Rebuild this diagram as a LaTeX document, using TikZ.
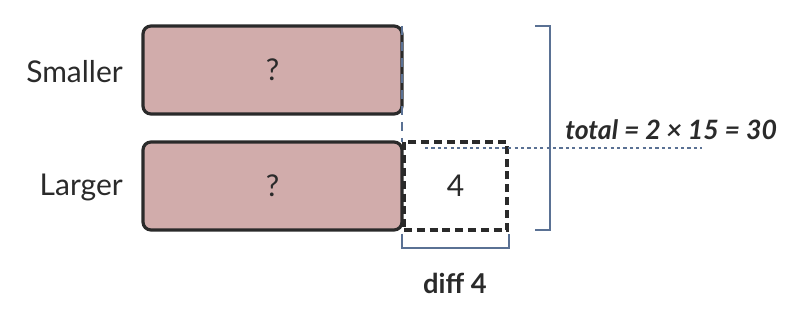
\documentclass[tikz,border=0pt]{standalone}
\usepackage{fontspec}
\setmainfont{Lato}
\definecolor{boxfill}{HTML}{D1ACAB}
\definecolor{boxline}{HTML}{2A2A2A}
\definecolor{steel}{HTML}{5A7194}
\begin{document}
\begin{tikzpicture}[x=0.75pt,y=-0.75pt,
  partbox/.style={draw=boxline,fill=boxfill,line width=2.4pt,rounded corners=6pt,
    minimum width=194.25pt,minimum height=66pt,inner sep=0pt,font=\fontsize{22.5}{26}\selectfont,text=boxline},
  diffbox/.style={draw=boxline,line width=2.4pt,dash pattern=on 6pt off 3.6pt,
    minimum width=77.25pt,minimum height=66pt,inner sep=0pt,font=\fontsize{22.5}{26}\selectfont,text=boxline},
  lbl/.style={font=\fontsize{22.5}{26}\selectfont,text=boxline,anchor=east,inner sep=0pt},
  bracket/.style={draw=steel,line width=1.6pt},
  guide/.style={draw=steel,line width=1.5pt,dash pattern=on 7pt off 5pt},
  dotline/.style={draw=steel,line width=2.1pt,dash pattern=on 2.4pt off 2.4pt}]
\useasboundingbox (0,0) rectangle (805,320);
\node[partbox] (small) at (272.5,70) {?};
\node[partbox] (large) at (272.5,186) {?};
\node[diffbox] (diff) at (455.5,186) {4};
\node[lbl] (lsmall) at (123,72) {Smaller};
\node[lbl] (llarge) at (123,187) {Larger};
\coordinate (gtop) at (402,26);
\coordinate (gbot) at (402,142);
\draw[guide] (gtop) -- (gbot);
\coordinate (dotA) at (425,148);
\coordinate (dotB) at (702,148);
\draw[dotline] (dotA) -- (dotB);
\draw[bracket] (diff.south west) ++(0,2) -- ++(0,14) -| ([yshift=-2]diff.south east);
\coordinate (bt) at (535,26);
\coordinate (bb) at (535,230);
\draw[bracket] (bt) -- ++(15,0) |- (bb);
\node[font=\bfseries\itshape\fontsize{20}{24}\selectfont,text=boxline,anchor=west,inner sep=0pt] (total) at (565,130) {total = 2 × 15 = 30};
\node[font=\bfseries\fontsize{20.5}{24}\selectfont,text=boxline,inner sep=0pt] (difflbl) at (455,283) {diff 4};
\end{tikzpicture}
\end{document}
